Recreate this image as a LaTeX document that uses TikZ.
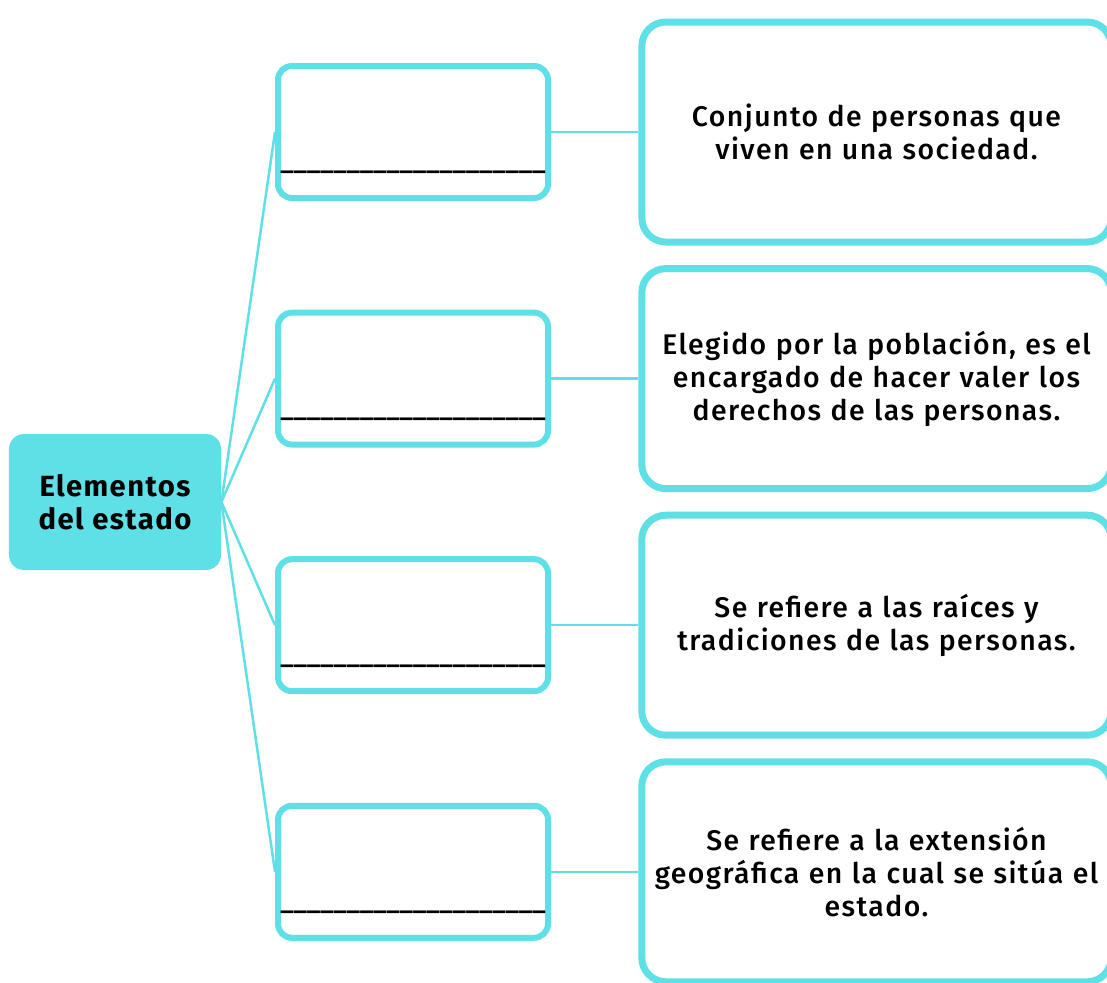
\documentclass[tikz,border=0pt]{standalone}
\usepackage{fontspec}
\setmainfont{Fira Sans}[UprightFont=* Medium, BoldFont=* Bold, LetterSpace=5]
\usetikzlibrary{positioning}
\definecolor{celeste}{RGB}{94,224,230}
\tikzset{
    node distance=123.3pt,
    mainbox/.style={
        fill=celeste,
        rounded corners=7.5pt,
        minimum width=106pt,
        minimum height=68pt,
        font=\fontsize{14.6}{16.5}\selectfont\bfseries,
        align=center
    },
    blankbox/.style={
        draw=celeste,
        line width=3pt,
        rounded corners=7pt,
        minimum width=135pt,
        minimum height=66pt
    },
    blankline/.style={
        inner sep=0pt,
        font=\fontsize{13}{16.5}\selectfont
    },
    textbox/.style={
        draw=celeste,
        line width=3.5pt,
        rounded corners=12pt,
        minimum width=232.5pt,
        minimum height=110pt,
        text width=228pt,
        align=center,
        font=\fontsize{14.2}{16.5}\selectfont
    },
    every edge/.append style={
        draw=celeste,
        line width=1.25pt
    }
}

\begin{document}
\begin{tikzpicture}
                    \clip (-57.5pt,251pt) rectangle (496pt,-240pt);

                    \node[mainbox] (estado) at (0,0) {Elementos\\del estado};

                    \node[blankbox] (b1) at (149pt,185pt) {};
                    \node[blankbox, below of = b1] (b2) {};
                    \node[blankbox, below of = b2] (b3) {};
                    \node[blankbox, below of = b3] (b4) {};

                    \node[blankline, below of = b1, yshift=103.3pt] (l1) {\addfontfeature{LetterSpace=0}\_\_\_\_\_\_\_\_\_\_\_\_\_\_\_\_\_\_\_\_};
                    \node[blankline, below of = b2, yshift=103.3pt] (l2) {\addfontfeature{LetterSpace=0}\_\_\_\_\_\_\_\_\_\_\_\_\_\_\_\_\_\_\_\_};
                    \node[blankline, below of = b3, yshift=103.3pt] (l3) {\addfontfeature{LetterSpace=0}\_\_\_\_\_\_\_\_\_\_\_\_\_\_\_\_\_\_\_\_};
                    \node[blankline, below of = b4, yshift=103.3pt] (l4) {\addfontfeature{LetterSpace=0}\_\_\_\_\_\_\_\_\_\_\_\_\_\_\_\_\_\_\_\_};

                    \node[textbox, right of = b1, xshift=108.45pt] (d1) {Conjunto de personas que\\viven en una sociedad.};
                    \node[textbox, right of = b2, xshift=108.45pt] (d2) {Elegido por la población, es el\\encargado de hacer valer los\\derechos de las personas.};
                    \node[textbox, right of = b3, xshift=108.45pt] (d3) {Se refiere a las raíces y\\tradiciones de las personas.};
                    \node[textbox, right of = b4, xshift=108.45pt] (d4) {Se refiere a la extensión\\geográfica en la cual se sitúa el\\estado.};

                    \draw (estado.east) edge (b1.west)
                        edge (b2.west)
                        edge (b3.west)
                        edge (b4.west);
                    \draw (b1) edge (d1);
                    \draw (b2) edge (d2);
                    \draw (b3) edge (d3);
                    \draw (b4) edge (d4);

                \end{tikzpicture}
\end{document}
